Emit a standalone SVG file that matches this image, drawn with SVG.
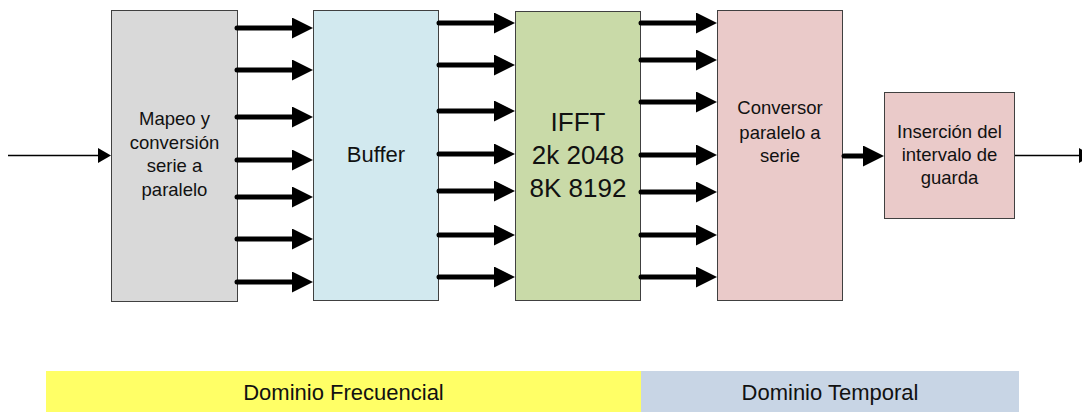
<svg xmlns="http://www.w3.org/2000/svg" width="1082" height="412" viewBox="0 0 1082 412">
<style>
.box{stroke:#404040;stroke-width:1}
.t{font-family:"Liberation Sans",Arial,sans-serif;fill:#111;text-anchor:middle}
.thick{stroke:#000;stroke-width:5;stroke-linecap:round;fill:none}
.thin{stroke:#000;stroke-width:1.3;fill:none}
</style>
<defs>
<marker id="big" viewBox="0 0 21 21" refX="0" refY="10.5" markerWidth="21" markerHeight="21" markerUnits="userSpaceOnUse" orient="auto">
<path d="M0,0 L21,10.5 L0,21 Z" fill="#000"/>
</marker>
<marker id="small" viewBox="0 0 13 15" refX="0" refY="7.5" markerWidth="13" markerHeight="15" markerUnits="userSpaceOnUse" orient="auto">
<path d="M0,0 L13,7.5 L0,15 Z" fill="#000"/>
</marker>
</defs>
<rect x="0" y="0" width="1082" height="412" fill="#fff"/>
<g id="dominio-frecuencial">
<rect x="46" y="371" width="595" height="41" fill="#ffff66"/>
<text class="t" x="343.5" y="400" font-size="22">Dominio Frecuencial</text>
</g>
<g id="dominio-temporal">
<rect x="641" y="371" width="378" height="41" fill="#c8d5e5"/>
<text class="t" x="830" y="400" font-size="22">Dominio Temporal</text>
</g>
<g id="mapeo">
<rect class="box" x="111.5" y="10.5" width="126" height="291" fill="#d9d9d9"/>
<text class="t" font-size="18.5"><tspan x="174.5" y="125">Mapeo y</tspan><tspan x="174.5" y="148.5">conversión</tspan><tspan x="174.5" y="172">serie a</tspan><tspan x="174.5" y="195.5">paralelo</tspan></text>
</g>
<g id="buffer">
<rect class="box" x="313.5" y="10.5" width="125" height="290" fill="#d2e9ef"/>
<text class="t" x="376" y="162.3" font-size="22">Buffer</text>
</g>
<g id="ifft">
<rect class="box" x="515.5" y="11.5" width="125" height="289" fill="#c9daa8"/>
<text class="t" font-size="26"><tspan x="578" y="130.7">IFFT</tspan><tspan x="578" y="164">2k 2048</tspan><tspan x="578" y="196.7">8K 8192</tspan></text>
</g>
<g id="conversor">
<rect class="box" x="717.5" y="10.5" width="125" height="290" fill="#eacac9"/>
<text class="t" font-size="18.5"><tspan x="780" y="114">Conversor</tspan><tspan x="780" y="138.5">paralelo a</tspan><tspan x="780" y="162">serie</tspan></text>
</g>
<g id="insercion">
<rect class="box" x="884.5" y="92.5" width="130" height="126" fill="#eacac9"/>
<text class="t" font-size="18.5"><tspan x="949.5" y="138.3">Inserción del</tspan><tspan x="949.5" y="161">intervalo de</tspan><tspan x="949.5" y="183.5">guarda</tspan></text>
</g>
<g id="connectors">
<line class="thin" x1="8" y1="155.5" x2="98" y2="155.5" marker-end="url(#small)"/>
<line class="thick" x1="237" y1="28" x2="292" y2="28" marker-end="url(#big)"/>
<line class="thick" x1="237" y1="70" x2="292" y2="70" marker-end="url(#big)"/>
<line class="thick" x1="237" y1="117" x2="292" y2="117" marker-end="url(#big)"/>
<line class="thick" x1="237" y1="160" x2="292" y2="160" marker-end="url(#big)"/>
<line class="thick" x1="237" y1="197" x2="292" y2="197" marker-end="url(#big)"/>
<line class="thick" x1="237" y1="239" x2="292" y2="239" marker-end="url(#big)"/>
<line class="thick" x1="237" y1="282" x2="292" y2="282" marker-end="url(#big)"/>
<line class="thick" x1="439" y1="23" x2="494" y2="23" marker-end="url(#big)"/>
<line class="thick" x1="439" y1="65" x2="494" y2="65" marker-end="url(#big)"/>
<line class="thick" x1="439" y1="111" x2="494" y2="111" marker-end="url(#big)"/>
<line class="thick" x1="439" y1="154" x2="494" y2="154" marker-end="url(#big)"/>
<line class="thick" x1="439" y1="191" x2="494" y2="191" marker-end="url(#big)"/>
<line class="thick" x1="439" y1="235" x2="494" y2="235" marker-end="url(#big)"/>
<line class="thick" x1="439" y1="277" x2="494" y2="277" marker-end="url(#big)"/>
<line class="thick" x1="641" y1="23" x2="696" y2="23" marker-end="url(#big)"/>
<line class="thick" x1="641" y1="60" x2="696" y2="60" marker-end="url(#big)"/>
<line class="thick" x1="641" y1="102" x2="696" y2="102" marker-end="url(#big)"/>
<line class="thick" x1="641" y1="155" x2="696" y2="155" marker-end="url(#big)"/>
<line class="thick" x1="641" y1="192" x2="696" y2="192" marker-end="url(#big)"/>
<line class="thick" x1="641" y1="235" x2="696" y2="235" marker-end="url(#big)"/>
<line class="thick" x1="641" y1="277" x2="696" y2="277" marker-end="url(#big)"/>
<line class="thick" x1="844" y1="156" x2="863" y2="156" marker-end="url(#big)"/>
<line class="thin" x1="1015" y1="155.5" x2="1079" y2="155.5" marker-end="url(#small)"/>
</g>
</svg>
